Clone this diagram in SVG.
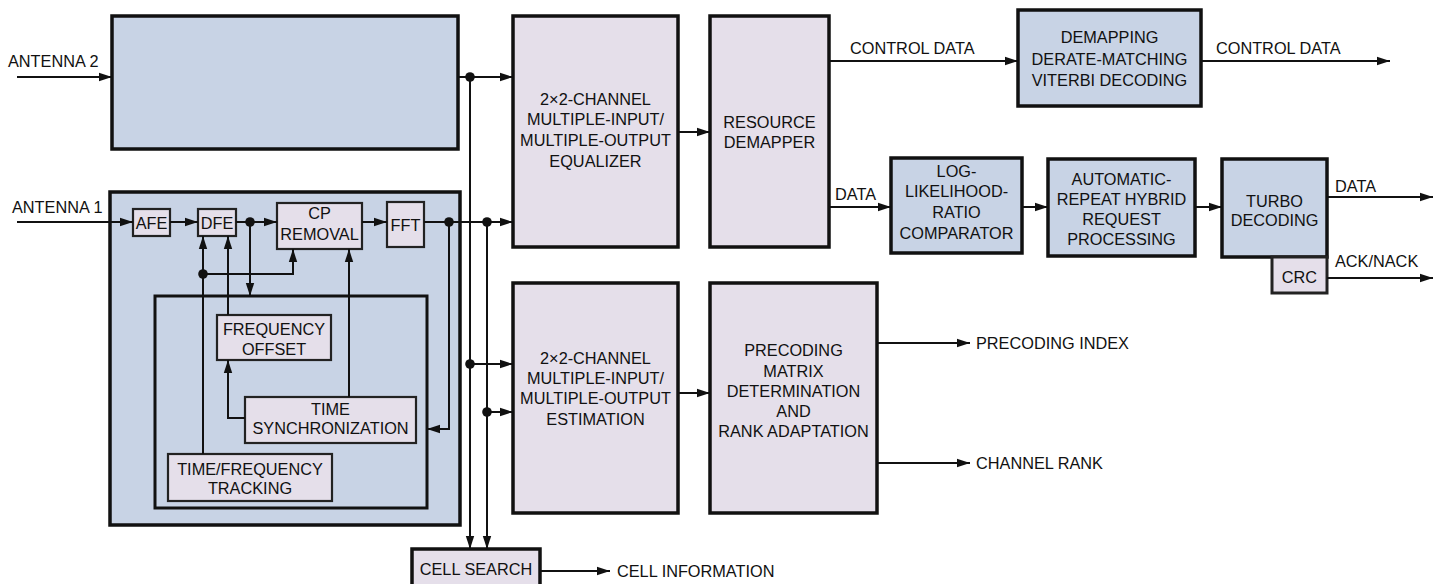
<svg xmlns="http://www.w3.org/2000/svg" width="1437" height="584" viewBox="0 0 1437 584">
<style>
text{font-family:"Liberation Sans",Arial,sans-serif;font-size:16.3px;fill:#111}
.c{text-anchor:middle}
.blue{fill:#C8D3E5;stroke:#111;stroke-width:3.5}
.pink{fill:#E5DFEA;stroke:#111;stroke-width:3.5}
.sblue{fill:#C8D3E5;stroke:#111;stroke-width:3}
.small{fill:#E5DFEA;stroke:#222;stroke-width:2.2}
.w{fill:none;stroke:#111;stroke-width:2}
.a{marker-end:url(#arr)}
.dot{fill:#111}
</style>
<defs>
<marker id="arr" markerUnits="userSpaceOnUse" markerWidth="14" markerHeight="10" refX="13" refY="5" orient="auto">
<path d="M0,0.8 L13,5 L0,9.2 z" fill="#111"/>
</marker>
</defs>
<rect width="1437" height="584" fill="#fff"/>
<g id="antenna2-frontend"><rect class="blue" x="112" y="16" width="346" height="133"/></g>
<g id="antenna1-frontend">
<rect class="blue" x="110" y="192" width="350" height="333"/>
<rect class="sblue" x="155" y="296" width="272" height="212"/>
</g>
<g id="afe"><rect class="small" x="133" y="209" width="37" height="27"/><text class="c" x="151.5" y="229">AFE</text></g>
<g id="dfe"><rect class="small" x="198" y="209" width="38" height="27"/><text class="c" x="217" y="229">DFE</text></g>
<g id="cp-removal"><rect class="small" x="277" y="203" width="85" height="46"/><text class="c" x="319.5" y="219">CP</text><text class="c" x="319.5" y="240">REMOVAL</text></g>
<g id="fft"><rect class="small" x="387" y="202" width="37" height="45"/><text class="c" x="405.5" y="231">FFT</text></g>
<g id="frequency-offset"><rect class="small" x="217" y="315" width="114" height="45"/><text class="c" x="274" y="335">FREQUENCY</text><text class="c" x="274" y="355">OFFSET</text></g>
<g id="time-sync"><rect class="small" x="245" y="397" width="171" height="46"/><text class="c" x="330.5" y="415">TIME</text><text class="c" x="330.5" y="434">SYNCHRONIZATION</text></g>
<g id="tracking"><rect class="small" x="168" y="454" width="164" height="47"/><text class="c" x="250" y="475">TIME/FREQUENCY</text><text class="c" x="250" y="494">TRACKING</text></g>
<g id="mimo-equalizer"><rect class="pink" x="513" y="16" width="165" height="231"/>
<text class="c" x="595.5" y="105">2×2-CHANNEL</text><text class="c" x="595.5" y="125">MULTIPLE-INPUT/</text><text class="c" x="595.5" y="146">MULTIPLE-OUTPUT</text><text class="c" x="595.5" y="167">EQUALIZER</text></g>
<g id="resource-demapper"><rect class="pink" x="710" y="16" width="119" height="231"/>
<text class="c" x="769.5" y="128">RESOURCE</text><text class="c" x="769.5" y="148">DEMAPPER</text></g>
<g id="demapping"><rect class="blue" x="1018" y="10" width="183" height="96"/>
<text class="c" x="1109.5" y="43">DEMAPPING</text><text class="c" x="1109.5" y="65">DERATE-MATCHING</text><text class="c" x="1109.5" y="86">VITERBI DECODING</text></g>
<g id="llr"><rect class="blue" x="891" y="158" width="131" height="95"/>
<text class="c" x="956.5" y="177">LOG-</text><text class="c" x="956.5" y="197">LIKELIHOOD-</text><text class="c" x="956.5" y="218">RATIO</text><text class="c" x="956.5" y="239">COMPARATOR</text></g>
<g id="harq"><rect class="blue" x="1048" y="159" width="147" height="97"/>
<text class="c" x="1121.5" y="185">AUTOMATIC-</text><text class="c" x="1121.5" y="205">REPEAT HYBRID</text><text class="c" x="1121.5" y="225">REQUEST</text><text class="c" x="1121.5" y="245">PROCESSING</text></g>
<g id="turbo"><rect class="blue" x="1222" y="159" width="105" height="98"/>
<text class="c" x="1274.5" y="207">TURBO</text><text class="c" x="1274.5" y="226">DECODING</text></g>
<g id="crc"><rect class="small" style="stroke-width:3" x="1272" y="257" width="55" height="36"/><text class="c" x="1299.5" y="283">CRC</text></g>
<g id="mimo-estimation"><rect class="pink" x="513" y="283" width="165" height="230"/>
<text class="c" x="595.5" y="364">2×2-CHANNEL</text><text class="c" x="595.5" y="384">MULTIPLE-INPUT/</text><text class="c" x="595.5" y="404">MULTIPLE-OUTPUT</text><text class="c" x="595.5" y="425">ESTIMATION</text></g>
<g id="precoding"><rect class="pink" x="710" y="283" width="167" height="230"/>
<text class="c" x="793.5" y="356">PRECODING</text><text class="c" x="793.5" y="377">MATRIX</text><text class="c" x="793.5" y="397">DETERMINATION</text><text class="c" x="793.5" y="417">AND</text><text class="c" x="793.5" y="437">RANK ADAPTATION</text></g>
<g id="cell-search"><rect class="pink" x="412" y="549" width="128" height="40"/><text class="c" x="476" y="575">CELL SEARCH</text></g>
<g id="connectors">
<path class="w a" d="M17,77 H112"/>
<path class="w a" d="M458,77 H513"/>
<path class="w a" d="M17,222 H133"/>
<path class="w a" d="M170,222 H198"/>
<path class="w a" d="M236,222 H277"/>
<path class="w a" d="M250,222 V296"/>
<path class="w a" d="M362,222 H387"/>
<path class="w a" d="M424,222 H513"/>
<path class="w a" d="M449,222 V429 H427"/>
<path class="w a" d="M203,454 V236"/>
<path class="w a" d="M203,274 H293 V249"/>
<path class="w a" d="M228,315 V236"/>
<path class="w a" d="M349,397 V249"/>
<path class="w a" d="M245,418 H228 V360"/>
<path class="w a" d="M470,77 V549"/>
<path class="w a" d="M487,222 V549"/>
<path class="w a" d="M470,364 H513"/>
<path class="w a" d="M487,412 H513"/>
<path class="w a" d="M678,132 H710"/>
<path class="w a" d="M678,393 H710"/>
<path class="w a" d="M829,61 H1018"/>
<path class="w a" d="M1201,61 H1390"/>
<path class="w a" d="M829,207 H891"/>
<path class="w a" d="M1022,207 H1048"/>
<path class="w a" d="M1195,207 H1222"/>
<path class="w a" d="M1327,197 H1433"/>
<path class="w a" d="M1327,278 H1433"/>
<path class="w a" d="M877,343 H970"/>
<path class="w a" d="M877,463 H970"/>
<path class="w a" d="M540,571 H610"/>
<circle class="dot" cx="470" cy="77" r="4.8"/>
<circle class="dot" cx="250" cy="222" r="4.8"/>
<circle class="dot" cx="449" cy="222" r="4.8"/>
<circle class="dot" cx="487" cy="222" r="4.8"/>
<circle class="dot" cx="203" cy="274" r="4.8"/>
<circle class="dot" cx="470" cy="364" r="4.8"/>
<circle class="dot" cx="487" cy="412" r="4.8"/>
</g>
<g id="labels">
<text x="8" y="67">ANTENNA 2</text>
<text x="12" y="213">ANTENNA 1</text>
<text x="850" y="54">CONTROL DATA</text>
<text x="1216" y="54">CONTROL DATA</text>
<text x="835" y="200">DATA</text>
<text x="1335" y="192">DATA</text>
<text x="1335" y="267">ACK/NACK</text>
<text x="976" y="349">PRECODING INDEX</text>
<text x="976" y="469">CHANNEL RANK</text>
<text x="617" y="577">CELL INFORMATION</text>
</g>
</svg>
